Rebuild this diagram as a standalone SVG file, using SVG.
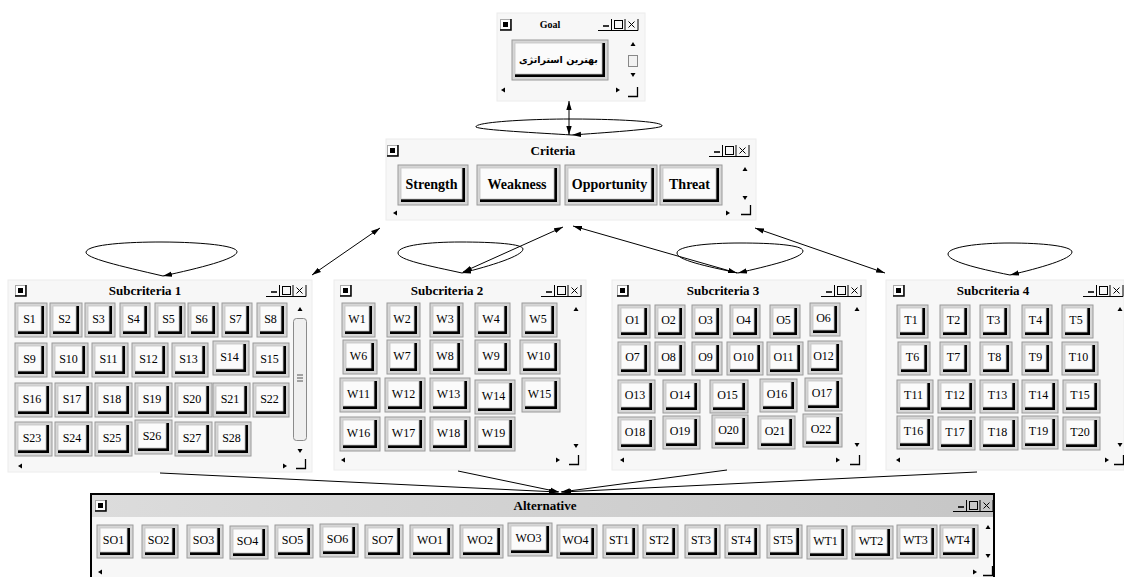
<svg xmlns="http://www.w3.org/2000/svg" xmlns:xlink="http://www.w3.org/1999/xlink" width="1124" height="577" viewBox="0 0 1124 577">
<style>
.wb{fill:#f7f7f7;stroke:#ececec}
.tt{font-family:"Liberation Serif",serif;font-weight:bold;font-size:13px;text-anchor:middle;fill:#000}
.bl{font-family:"Liberation Serif",serif;font-size:12px;text-anchor:middle;fill:#000}
.cl{font-family:"Liberation Serif",serif;font-weight:bold;font-size:14px;text-anchor:middle;fill:#000}
.o{fill:#d6d6d6;stroke:#9a9a9a}
.s{fill:#000}
.f{fill:#fbfbfb;stroke:#c4c4c4;stroke-width:.8}
.cn line,.cn path{stroke:#000;stroke-width:1;fill:none}
</style>
<defs>
<marker id="ah" viewBox="0 0 10 6" refX="10" refY="3" markerWidth="9" markerHeight="6" markerUnits="userSpaceOnUse" orient="auto-start-reverse"><path d="M0,0L10,3L0,6Z" fill="#000"/></marker>
<g id="ico"><rect x="0.5" y="0.5" width="10" height="10" fill="#fff" stroke="#aaa"/><rect x="3" y="3" width="5" height="5" fill="#000"/><path d="M11,0V11H0" stroke="#000" stroke-width="1.5" fill="none"/></g>
<g id="ctl"><path d="M0,13.5H40M13.5,2V13.5M27,2V13.5M40,2V13.5" stroke="#000" fill="none"/><path d="M5,9H11" stroke="#000" stroke-width="1.6"/><rect x="16.5" y="3.5" width="8" height="8" fill="none" stroke="#000"/><path d="M30.5,4.5L36.5,10.5M36.5,4.5L30.5,10.5" stroke="#000" fill="none"/></g>
<path id="up" d="M0,-2L2.5,2H-2.5Z" fill="#000"/>
<path id="dn" d="M0,2L2.5,-2H-2.5Z" fill="#000"/>
<path id="lf" d="M-2,0L2,-2.5V2.5Z" fill="#000"/>
<path id="rt" d="M2,0L-2,-2.5V2.5Z" fill="#000"/>
<path id="cor" d="M0,9.5H9.5V0" fill="none" stroke="#000" stroke-width="1.3"/>
<linearGradient id="tb" x1="0" x2="1" y1="0" y2="0"><stop offset="0" stop-color="#dcdcdc"/><stop offset="1" stop-color="#c6c6c6"/></linearGradient>
</defs>
<rect width="1124" height="577" fill="#fff"/>

<g id="goal">
<rect class="wb" x="497" y="13" width="148" height="88"/>
<use href="#ico" x="500" y="19"/>
<text class="tt" x="550" y="28" style="font-size:10px">Goal</text>
<use href="#ctl" x="598" y="17"/>
<g transform="translate(512,40)"><rect class="o" width="96" height="40"/><rect class="s" x="3" y="3" width="90" height="34"/><rect class="f" x="3" y="3" width="87" height="31"/><text x="46.5" y="22.5" style="font-family:'DejaVu Sans',sans-serif;font-weight:bold;font-size:9.5px;text-anchor:middle" direction="rtl">بهترین استراتژی</text></g>
<use href="#up" x="633" y="44"/><rect x="628.5" y="55.5" width="9" height="11" fill="#f2f2f2" stroke="#888"/><use href="#dn" x="633" y="75"/>
<use href="#lf" x="503" y="90"/><use href="#rt" x="618" y="90"/><use href="#cor" x="628" y="87"/>
</g>

<g id="criteria">
<rect class="wb" x="386" y="139" width="370" height="81"/>
<use href="#ico" x="387" y="145"/>
<text class="tt" x="553" y="155">Criteria</text>
<use href="#ctl" x="709" y="143"/>
<g transform="translate(398,165)"><rect class="o" width="70" height="40"/><rect class="s" x="3" y="3" width="64" height="34"/><rect class="f" x="3" y="3" width="61" height="31"/><text class="cl" x="33.5" y="23.5">Strength</text></g>
<g transform="translate(477,165)"><rect class="o" width="83" height="40"/><rect class="s" x="3" y="3" width="77" height="34"/><rect class="f" x="3" y="3" width="74" height="31"/><text class="cl" x="40" y="23.5">Weakness</text></g>
<g transform="translate(565,165)"><rect class="o" width="92" height="40"/><rect class="s" x="3" y="3" width="86" height="34"/><rect class="f" x="3" y="3" width="83" height="31"/><text class="cl" x="44.5" y="23.5">Opportunity</text></g>
<g transform="translate(660,165)"><rect class="o" width="62" height="40"/><rect class="s" x="3" y="3" width="56" height="34"/><rect class="f" x="3" y="3" width="53" height="31"/><text class="cl" x="29.5" y="23.5">Threat</text></g>
<use href="#up" x="745" y="169"/><use href="#dn" x="745" y="198"/>
<use href="#lf" x="395" y="213"/><use href="#rt" x="728" y="213"/><use href="#cor" x="741" y="205"/>
</g>

<g id="sub1">
<rect class="wb" x="8" y="280" width="304" height="192"/>
<use href="#ico" x="15" y="285"/>
<text class="tt" x="145" y="295">Subcriteria 1</text>
<use href="#ctl" x="266" y="283"/>
<g transform="translate(15,303)"><rect class="o" width="32" height="34"/><rect class="s" x="3" y="3" width="26" height="28"/><rect class="f" x="3" y="3" width="23" height="25"/><text class="bl" x="14.5" y="19.5">S1</text></g>
<g transform="translate(50,303)"><rect class="o" width="32" height="34"/><rect class="s" x="3" y="3" width="26" height="28"/><rect class="f" x="3" y="3" width="23" height="25"/><text class="bl" x="14.5" y="19.5">S2</text></g>
<g transform="translate(85,303)"><rect class="o" width="30" height="34"/><rect class="s" x="3" y="3" width="24" height="28"/><rect class="f" x="3" y="3" width="21" height="25"/><text class="bl" x="13.5" y="19.5">S3</text></g>
<g transform="translate(120,303)"><rect class="o" width="30" height="34"/><rect class="s" x="3" y="3" width="24" height="28"/><rect class="f" x="3" y="3" width="21" height="25"/><text class="bl" x="13.5" y="19.5">S4</text></g>
<g transform="translate(155,303)"><rect class="o" width="30" height="34"/><rect class="s" x="3" y="3" width="24" height="28"/><rect class="f" x="3" y="3" width="21" height="25"/><text class="bl" x="13.5" y="19.5">S5</text></g>
<g transform="translate(188,303)"><rect class="o" width="30" height="34"/><rect class="s" x="3" y="3" width="24" height="28"/><rect class="f" x="3" y="3" width="21" height="25"/><text class="bl" x="13.5" y="19.5">S6</text></g>
<g transform="translate(222,303)"><rect class="o" width="30" height="34"/><rect class="s" x="3" y="3" width="24" height="28"/><rect class="f" x="3" y="3" width="21" height="25"/><text class="bl" x="13.5" y="19.5">S7</text></g>
<g transform="translate(257,303)"><rect class="o" width="30" height="34"/><rect class="s" x="3" y="3" width="24" height="28"/><rect class="f" x="3" y="3" width="21" height="25"/><text class="bl" x="13.5" y="19.5">S8</text></g>
<g transform="translate(15,343)"><rect class="o" width="32" height="34"/><rect class="s" x="3" y="3" width="26" height="28"/><rect class="f" x="3" y="3" width="23" height="25"/><text class="bl" x="14.5" y="19.5">S9</text></g>
<g transform="translate(52,343)"><rect class="o" width="36" height="34"/><rect class="s" x="3" y="3" width="30" height="28"/><rect class="f" x="3" y="3" width="27" height="25"/><text class="bl" x="16.5" y="19.5">S10</text></g>
<g transform="translate(92,343)"><rect class="o" width="36" height="34"/><rect class="s" x="3" y="3" width="30" height="28"/><rect class="f" x="3" y="3" width="27" height="25"/><text class="bl" x="16.5" y="19.5">S11</text></g>
<g transform="translate(132,343)"><rect class="o" width="36" height="34"/><rect class="s" x="3" y="3" width="30" height="28"/><rect class="f" x="3" y="3" width="27" height="25"/><text class="bl" x="16.5" y="19.5">S12</text></g>
<g transform="translate(172,343)"><rect class="o" width="36" height="34"/><rect class="s" x="3" y="3" width="30" height="28"/><rect class="f" x="3" y="3" width="27" height="25"/><text class="bl" x="16.5" y="19.5">S13</text></g>
<g transform="translate(213,341)"><rect class="o" width="36" height="34"/><rect class="s" x="3" y="3" width="30" height="28"/><rect class="f" x="3" y="3" width="27" height="25"/><text class="bl" x="16.5" y="19.5">S14</text></g>
<g transform="translate(253,343)"><rect class="o" width="36" height="34"/><rect class="s" x="3" y="3" width="30" height="28"/><rect class="f" x="3" y="3" width="27" height="25"/><text class="bl" x="16.5" y="19.5">S15</text></g>
<g transform="translate(15,383)"><rect class="o" width="37" height="34"/><rect class="s" x="3" y="3" width="31" height="28"/><rect class="f" x="3" y="3" width="28" height="25"/><text class="bl" x="17" y="19.5">S16</text></g>
<g transform="translate(55,383)"><rect class="o" width="37" height="34"/><rect class="s" x="3" y="3" width="31" height="28"/><rect class="f" x="3" y="3" width="28" height="25"/><text class="bl" x="17" y="19.5">S17</text></g>
<g transform="translate(95,383)"><rect class="o" width="37" height="34"/><rect class="s" x="3" y="3" width="31" height="28"/><rect class="f" x="3" y="3" width="28" height="25"/><text class="bl" x="17" y="19.5">S18</text></g>
<g transform="translate(135,383)"><rect class="o" width="37" height="34"/><rect class="s" x="3" y="3" width="31" height="28"/><rect class="f" x="3" y="3" width="28" height="25"/><text class="bl" x="17" y="19.5">S19</text></g>
<g transform="translate(175,383)"><rect class="o" width="37" height="34"/><rect class="s" x="3" y="3" width="31" height="28"/><rect class="f" x="3" y="3" width="28" height="25"/><text class="bl" x="17" y="19.5">S20</text></g>
<g transform="translate(213,383)"><rect class="o" width="37" height="34"/><rect class="s" x="3" y="3" width="31" height="28"/><rect class="f" x="3" y="3" width="28" height="25"/><text class="bl" x="17" y="19.5">S21</text></g>
<g transform="translate(253,383)"><rect class="o" width="36" height="34"/><rect class="s" x="3" y="3" width="30" height="28"/><rect class="f" x="3" y="3" width="27" height="25"/><text class="bl" x="16.5" y="19.5">S22</text></g>
<g transform="translate(15,422)"><rect class="o" width="37" height="34"/><rect class="s" x="3" y="3" width="31" height="28"/><rect class="f" x="3" y="3" width="28" height="25"/><text class="bl" x="17" y="19.5">S23</text></g>
<g transform="translate(55,422)"><rect class="o" width="37" height="34"/><rect class="s" x="3" y="3" width="31" height="28"/><rect class="f" x="3" y="3" width="28" height="25"/><text class="bl" x="17" y="19.5">S24</text></g>
<g transform="translate(95,422)"><rect class="o" width="37" height="34"/><rect class="s" x="3" y="3" width="31" height="28"/><rect class="f" x="3" y="3" width="28" height="25"/><text class="bl" x="17" y="19.5">S25</text></g>
<g transform="translate(135,420)"><rect class="o" width="37" height="34"/><rect class="s" x="3" y="3" width="31" height="28"/><rect class="f" x="3" y="3" width="28" height="25"/><text class="bl" x="17" y="19.5">S26</text></g>
<g transform="translate(175,422)"><rect class="o" width="37" height="34"/><rect class="s" x="3" y="3" width="31" height="28"/><rect class="f" x="3" y="3" width="28" height="25"/><text class="bl" x="17" y="19.5">S27</text></g>
<g transform="translate(215,422)"><rect class="o" width="36" height="34"/><rect class="s" x="3" y="3" width="30" height="28"/><rect class="f" x="3" y="3" width="27" height="25"/><text class="bl" x="16.5" y="19.5">S28</text></g>
<rect x="293.5" y="318.5" width="13" height="122" rx="3" fill="#efefef" stroke="#8a8a8a"/>
<path d="M297,375H303M297,378H303M297,381H303" stroke="#555"/>
<use href="#up" x="300" y="309"/><use href="#dn" x="300" y="451"/>
<use href="#lf" x="20" y="466"/><use href="#rt" x="285" y="466"/><use href="#cor" x="296" y="459"/>
</g>

<g id="sub2">
<rect class="wb" x="334" y="280" width="252" height="190"/>
<use href="#ico" x="340" y="285"/>
<text class="tt" x="447" y="295">Subcriteria 2</text>
<use href="#ctl" x="541" y="283"/>
<g transform="translate(342,303)"><rect class="o" width="33" height="34"/><rect class="s" x="3" y="3" width="27" height="28"/><rect class="f" x="3" y="3" width="24" height="25"/><text class="bl" x="15" y="19.5">W1</text></g>
<g transform="translate(387,303)"><rect class="o" width="33" height="34"/><rect class="s" x="3" y="3" width="27" height="28"/><rect class="f" x="3" y="3" width="24" height="25"/><text class="bl" x="15" y="19.5">W2</text></g>
<g transform="translate(430,303)"><rect class="o" width="33" height="34"/><rect class="s" x="3" y="3" width="27" height="28"/><rect class="f" x="3" y="3" width="24" height="25"/><text class="bl" x="15" y="19.5">W3</text></g>
<g transform="translate(475,303)"><rect class="o" width="35" height="34"/><rect class="s" x="3" y="3" width="29" height="28"/><rect class="f" x="3" y="3" width="26" height="25"/><text class="bl" x="16" y="19.5">W4</text></g>
<g transform="translate(522,303)"><rect class="o" width="35" height="34"/><rect class="s" x="3" y="3" width="29" height="28"/><rect class="f" x="3" y="3" width="26" height="25"/><text class="bl" x="16" y="19.5">W5</text></g>
<g transform="translate(343,340)"><rect class="o" width="34" height="34"/><rect class="s" x="3" y="3" width="28" height="28"/><rect class="f" x="3" y="3" width="25" height="25"/><text class="bl" x="15.5" y="19.5">W6</text></g>
<g transform="translate(387,340)"><rect class="o" width="33" height="34"/><rect class="s" x="3" y="3" width="27" height="28"/><rect class="f" x="3" y="3" width="24" height="25"/><text class="bl" x="15" y="19.5">W7</text></g>
<g transform="translate(430,340)"><rect class="o" width="33" height="34"/><rect class="s" x="3" y="3" width="27" height="28"/><rect class="f" x="3" y="3" width="24" height="25"/><text class="bl" x="15" y="19.5">W8</text></g>
<g transform="translate(475,340)"><rect class="o" width="35" height="34"/><rect class="s" x="3" y="3" width="29" height="28"/><rect class="f" x="3" y="3" width="26" height="25"/><text class="bl" x="16" y="19.5">W9</text></g>
<g transform="translate(520,340)"><rect class="o" width="40" height="34"/><rect class="s" x="3" y="3" width="34" height="28"/><rect class="f" x="3" y="3" width="31" height="25"/><text class="bl" x="18.5" y="19.5">W10</text></g>
<g transform="translate(340,378)"><rect class="o" width="40" height="34"/><rect class="s" x="3" y="3" width="34" height="28"/><rect class="f" x="3" y="3" width="31" height="25"/><text class="bl" x="18.5" y="19.5">W11</text></g>
<g transform="translate(385,378)"><rect class="o" width="40" height="34"/><rect class="s" x="3" y="3" width="34" height="28"/><rect class="f" x="3" y="3" width="31" height="25"/><text class="bl" x="18.5" y="19.5">W12</text></g>
<g transform="translate(430,378)"><rect class="o" width="40" height="34"/><rect class="s" x="3" y="3" width="34" height="28"/><rect class="f" x="3" y="3" width="31" height="25"/><text class="bl" x="18.5" y="19.5">W13</text></g>
<g transform="translate(475,380)"><rect class="o" width="40" height="34"/><rect class="s" x="3" y="3" width="34" height="28"/><rect class="f" x="3" y="3" width="31" height="25"/><text class="bl" x="18.5" y="19.5">W14</text></g>
<g transform="translate(522,378)"><rect class="o" width="38" height="34"/><rect class="s" x="3" y="3" width="32" height="28"/><rect class="f" x="3" y="3" width="29" height="25"/><text class="bl" x="17.5" y="19.5">W15</text></g>
<g transform="translate(340,417)"><rect class="o" width="40" height="34"/><rect class="s" x="3" y="3" width="34" height="28"/><rect class="f" x="3" y="3" width="31" height="25"/><text class="bl" x="18.5" y="19.5">W16</text></g>
<g transform="translate(385,417)"><rect class="o" width="40" height="34"/><rect class="s" x="3" y="3" width="34" height="28"/><rect class="f" x="3" y="3" width="31" height="25"/><text class="bl" x="18.5" y="19.5">W17</text></g>
<g transform="translate(430,417)"><rect class="o" width="40" height="34"/><rect class="s" x="3" y="3" width="34" height="28"/><rect class="f" x="3" y="3" width="31" height="25"/><text class="bl" x="18.5" y="19.5">W18</text></g>
<g transform="translate(475,417)"><rect class="o" width="40" height="34"/><rect class="s" x="3" y="3" width="34" height="28"/><rect class="f" x="3" y="3" width="31" height="25"/><text class="bl" x="18.5" y="19.5">W19</text></g>
<use href="#up" x="576" y="309"/><use href="#dn" x="576" y="446"/>
<use href="#lf" x="343" y="460"/><use href="#rt" x="558" y="460"/><use href="#cor" x="569" y="455"/>
</g>

<g id="sub3">
<rect class="wb" x="612" y="280" width="254" height="190"/>
<use href="#ico" x="617" y="285"/>
<text class="tt" x="723" y="295">Subcriteria 3</text>
<use href="#ctl" x="821" y="283"/>
<g transform="translate(618,305)"><rect class="o" width="32" height="33"/><rect class="s" x="3" y="3" width="26" height="27"/><rect class="f" x="3" y="3" width="23" height="24"/><text class="bl" x="14.5" y="19">O1</text></g>
<g transform="translate(655,305)"><rect class="o" width="30" height="33"/><rect class="s" x="3" y="3" width="24" height="27"/><rect class="f" x="3" y="3" width="21" height="24"/><text class="bl" x="13.5" y="19">O2</text></g>
<g transform="translate(692,305)"><rect class="o" width="30" height="33"/><rect class="s" x="3" y="3" width="24" height="27"/><rect class="f" x="3" y="3" width="21" height="24"/><text class="bl" x="13.5" y="19">O3</text></g>
<g transform="translate(730,305)"><rect class="o" width="30" height="33"/><rect class="s" x="3" y="3" width="24" height="27"/><rect class="f" x="3" y="3" width="21" height="24"/><text class="bl" x="13.5" y="19">O4</text></g>
<g transform="translate(770,305)"><rect class="o" width="30" height="33"/><rect class="s" x="3" y="3" width="24" height="27"/><rect class="f" x="3" y="3" width="21" height="24"/><text class="bl" x="13.5" y="19">O5</text></g>
<g transform="translate(810,303)"><rect class="o" width="30" height="33"/><rect class="s" x="3" y="3" width="24" height="27"/><rect class="f" x="3" y="3" width="21" height="24"/><text class="bl" x="13.5" y="19">O6</text></g>
<g transform="translate(618,342)"><rect class="o" width="32" height="33"/><rect class="s" x="3" y="3" width="26" height="27"/><rect class="f" x="3" y="3" width="23" height="24"/><text class="bl" x="14.5" y="19">O7</text></g>
<g transform="translate(655,342)"><rect class="o" width="30" height="33"/><rect class="s" x="3" y="3" width="24" height="27"/><rect class="f" x="3" y="3" width="21" height="24"/><text class="bl" x="13.5" y="19">O8</text></g>
<g transform="translate(692,342)"><rect class="o" width="30" height="33"/><rect class="s" x="3" y="3" width="24" height="27"/><rect class="f" x="3" y="3" width="21" height="24"/><text class="bl" x="13.5" y="19">O9</text></g>
<g transform="translate(727,342)"><rect class="o" width="36" height="33"/><rect class="s" x="3" y="3" width="30" height="27"/><rect class="f" x="3" y="3" width="27" height="24"/><text class="bl" x="16.5" y="19">O10</text></g>
<g transform="translate(767,342)"><rect class="o" width="36" height="33"/><rect class="s" x="3" y="3" width="30" height="27"/><rect class="f" x="3" y="3" width="27" height="24"/><text class="bl" x="16.5" y="19">O11</text></g>
<g transform="translate(808,341)"><rect class="o" width="34" height="33"/><rect class="s" x="3" y="3" width="28" height="27"/><rect class="f" x="3" y="3" width="25" height="24"/><text class="bl" x="15.5" y="19">O12</text></g>
<g transform="translate(618,380)"><rect class="o" width="37" height="33"/><rect class="s" x="3" y="3" width="31" height="27"/><rect class="f" x="3" y="3" width="28" height="24"/><text class="bl" x="17" y="19">O13</text></g>
<g transform="translate(663,380)"><rect class="o" width="37" height="33"/><rect class="s" x="3" y="3" width="31" height="27"/><rect class="f" x="3" y="3" width="28" height="24"/><text class="bl" x="17" y="19">O14</text></g>
<g transform="translate(710,380)"><rect class="o" width="38" height="33"/><rect class="s" x="3" y="3" width="32" height="27"/><rect class="f" x="3" y="3" width="29" height="24"/><text class="bl" x="17.5" y="19">O15</text></g>
<g transform="translate(760,379)"><rect class="o" width="37" height="33"/><rect class="s" x="3" y="3" width="31" height="27"/><rect class="f" x="3" y="3" width="28" height="24"/><text class="bl" x="17" y="19">O16</text></g>
<g transform="translate(805,378)"><rect class="o" width="37" height="33"/><rect class="s" x="3" y="3" width="31" height="27"/><rect class="f" x="3" y="3" width="28" height="24"/><text class="bl" x="17" y="19">O17</text></g>
<g transform="translate(618,417)"><rect class="o" width="37" height="33"/><rect class="s" x="3" y="3" width="31" height="27"/><rect class="f" x="3" y="3" width="28" height="24"/><text class="bl" x="17" y="19">O18</text></g>
<g transform="translate(663,416)"><rect class="o" width="37" height="33"/><rect class="s" x="3" y="3" width="31" height="27"/><rect class="f" x="3" y="3" width="28" height="24"/><text class="bl" x="17" y="19">O19</text></g>
<g transform="translate(712,415)"><rect class="o" width="36" height="33"/><rect class="s" x="3" y="3" width="30" height="27"/><rect class="f" x="3" y="3" width="27" height="24"/><text class="bl" x="16.5" y="19">O20</text></g>
<g transform="translate(758,416)"><rect class="o" width="37" height="33"/><rect class="s" x="3" y="3" width="31" height="27"/><rect class="f" x="3" y="3" width="28" height="24"/><text class="bl" x="17" y="19">O21</text></g>
<g transform="translate(803,414)"><rect class="o" width="39" height="33"/><rect class="s" x="3" y="3" width="33" height="27"/><rect class="f" x="3" y="3" width="30" height="24"/><text class="bl" x="18" y="19">O22</text></g>
<use href="#up" x="857" y="309"/><use href="#dn" x="857" y="445"/>
<use href="#lf" x="622" y="460"/><use href="#rt" x="838" y="460"/><use href="#cor" x="850" y="455"/>
</g>

<g id="sub4">
<rect class="wb" x="886" y="280" width="238" height="190"/>
<use href="#ico" x="893" y="285"/>
<text class="tt" x="993" y="295">Subcriteria 4</text>
<use href="#ctl" x="1083" y="283"/>
<g transform="translate(897,305)"><rect class="o" width="31" height="33"/><rect class="s" x="3" y="3" width="25" height="27"/><rect class="f" x="3" y="3" width="22" height="24"/><text class="bl" x="14" y="19">T1</text></g>
<g transform="translate(940,305)"><rect class="o" width="30" height="33"/><rect class="s" x="3" y="3" width="24" height="27"/><rect class="f" x="3" y="3" width="21" height="24"/><text class="bl" x="13.5" y="19">T2</text></g>
<g transform="translate(980,305)"><rect class="o" width="30" height="33"/><rect class="s" x="3" y="3" width="24" height="27"/><rect class="f" x="3" y="3" width="21" height="24"/><text class="bl" x="13.5" y="19">T3</text></g>
<g transform="translate(1022,305)"><rect class="o" width="30" height="33"/><rect class="s" x="3" y="3" width="24" height="27"/><rect class="f" x="3" y="3" width="21" height="24"/><text class="bl" x="13.5" y="19">T4</text></g>
<g transform="translate(1062,305)"><rect class="o" width="31" height="33"/><rect class="s" x="3" y="3" width="25" height="27"/><rect class="f" x="3" y="3" width="22" height="24"/><text class="bl" x="14" y="19">T5</text></g>
<g transform="translate(898,342)"><rect class="o" width="32" height="33"/><rect class="s" x="3" y="3" width="26" height="27"/><rect class="f" x="3" y="3" width="23" height="24"/><text class="bl" x="14.5" y="19">T6</text></g>
<g transform="translate(940,342)"><rect class="o" width="30" height="33"/><rect class="s" x="3" y="3" width="24" height="27"/><rect class="f" x="3" y="3" width="21" height="24"/><text class="bl" x="13.5" y="19">T7</text></g>
<g transform="translate(980,342)"><rect class="o" width="32" height="33"/><rect class="s" x="3" y="3" width="26" height="27"/><rect class="f" x="3" y="3" width="23" height="24"/><text class="bl" x="14.5" y="19">T8</text></g>
<g transform="translate(1022,342)"><rect class="o" width="30" height="33"/><rect class="s" x="3" y="3" width="24" height="27"/><rect class="f" x="3" y="3" width="21" height="24"/><text class="bl" x="13.5" y="19">T9</text></g>
<g transform="translate(1062,342)"><rect class="o" width="36" height="33"/><rect class="s" x="3" y="3" width="30" height="27"/><rect class="f" x="3" y="3" width="27" height="24"/><text class="bl" x="16.5" y="19">T10</text></g>
<g transform="translate(897,380)"><rect class="o" width="36" height="33"/><rect class="s" x="3" y="3" width="30" height="27"/><rect class="f" x="3" y="3" width="27" height="24"/><text class="bl" x="16.5" y="19">T11</text></g>
<g transform="translate(938,380)"><rect class="o" width="37" height="33"/><rect class="s" x="3" y="3" width="31" height="27"/><rect class="f" x="3" y="3" width="28" height="24"/><text class="bl" x="17" y="19">T12</text></g>
<g transform="translate(980,380)"><rect class="o" width="38" height="33"/><rect class="s" x="3" y="3" width="32" height="27"/><rect class="f" x="3" y="3" width="29" height="24"/><text class="bl" x="17.5" y="19">T13</text></g>
<g transform="translate(1022,380)"><rect class="o" width="36" height="33"/><rect class="s" x="3" y="3" width="30" height="27"/><rect class="f" x="3" y="3" width="27" height="24"/><text class="bl" x="16.5" y="19">T14</text></g>
<g transform="translate(1063,380)"><rect class="o" width="37" height="33"/><rect class="s" x="3" y="3" width="31" height="27"/><rect class="f" x="3" y="3" width="28" height="24"/><text class="bl" x="17" y="19">T15</text></g>
<g transform="translate(897,416)"><rect class="o" width="36" height="33"/><rect class="s" x="3" y="3" width="30" height="27"/><rect class="f" x="3" y="3" width="27" height="24"/><text class="bl" x="16.5" y="19">T16</text></g>
<g transform="translate(938,417)"><rect class="o" width="37" height="33"/><rect class="s" x="3" y="3" width="31" height="27"/><rect class="f" x="3" y="3" width="28" height="24"/><text class="bl" x="17" y="19">T17</text></g>
<g transform="translate(980,417)"><rect class="o" width="38" height="33"/><rect class="s" x="3" y="3" width="32" height="27"/><rect class="f" x="3" y="3" width="29" height="24"/><text class="bl" x="17.5" y="19">T18</text></g>
<g transform="translate(1022,416)"><rect class="o" width="36" height="33"/><rect class="s" x="3" y="3" width="30" height="27"/><rect class="f" x="3" y="3" width="27" height="24"/><text class="bl" x="16.5" y="19">T19</text></g>
<g transform="translate(1063,417)"><rect class="o" width="37" height="33"/><rect class="s" x="3" y="3" width="31" height="27"/><rect class="f" x="3" y="3" width="28" height="24"/><text class="bl" x="17" y="19">T20</text></g>
<use href="#up" x="1120" y="309"/><use href="#dn" x="1120" y="445"/>
<use href="#lf" x="898" y="460"/><use href="#rt" x="1107" y="460"/><use href="#cor" x="1114" y="455"/>
</g>

<g id="alternative">
<rect x="91" y="494" width="903" height="90" fill="#f7f7f7" stroke="#000" stroke-width="2"/>
<rect x="92" y="495" width="901" height="22" fill="url(#tb)"/>
<use href="#ico" x="95" y="500"/>
<text class="tt" x="545" y="510">Alternative</text>
<use href="#ctl" x="953" y="498"/>
<g transform="translate(97,525)"><rect class="o" width="36" height="33"/><rect class="s" x="3" y="3" width="30" height="27"/><rect class="f" x="3" y="3" width="27" height="24"/><text class="bl" x="16.5" y="19">SO1</text></g>
<g transform="translate(142,525)"><rect class="o" width="36" height="33"/><rect class="s" x="3" y="3" width="30" height="27"/><rect class="f" x="3" y="3" width="27" height="24"/><text class="bl" x="16.5" y="19">SO2</text></g>
<g transform="translate(187,525)"><rect class="o" width="36" height="33"/><rect class="s" x="3" y="3" width="30" height="27"/><rect class="f" x="3" y="3" width="27" height="24"/><text class="bl" x="16.5" y="19">SO3</text></g>
<g transform="translate(230,526)"><rect class="o" width="38" height="33"/><rect class="s" x="3" y="3" width="32" height="27"/><rect class="f" x="3" y="3" width="29" height="24"/><text class="bl" x="17.5" y="19">SO4</text></g>
<g transform="translate(275,525)"><rect class="o" width="38" height="33"/><rect class="s" x="3" y="3" width="32" height="27"/><rect class="f" x="3" y="3" width="29" height="24"/><text class="bl" x="17.5" y="19">SO5</text></g>
<g transform="translate(320,524)"><rect class="o" width="38" height="33"/><rect class="s" x="3" y="3" width="32" height="27"/><rect class="f" x="3" y="3" width="29" height="24"/><text class="bl" x="17.5" y="19">SO6</text></g>
<g transform="translate(365,525)"><rect class="o" width="38" height="33"/><rect class="s" x="3" y="3" width="32" height="27"/><rect class="f" x="3" y="3" width="29" height="24"/><text class="bl" x="17.5" y="19">SO7</text></g>
<g transform="translate(410,525)"><rect class="o" width="43" height="33"/><rect class="s" x="3" y="3" width="37" height="27"/><rect class="f" x="3" y="3" width="34" height="24"/><text class="bl" x="20" y="19">WO1</text></g>
<g transform="translate(460,525)"><rect class="o" width="43" height="33"/><rect class="s" x="3" y="3" width="37" height="27"/><rect class="f" x="3" y="3" width="34" height="24"/><text class="bl" x="20" y="19">WO2</text></g>
<g transform="translate(508,523)"><rect class="o" width="44" height="33"/><rect class="s" x="3" y="3" width="38" height="27"/><rect class="f" x="3" y="3" width="35" height="24"/><text class="bl" x="20.5" y="19">WO3</text></g>
<g transform="translate(557,525)"><rect class="o" width="40" height="33"/><rect class="s" x="3" y="3" width="34" height="27"/><rect class="f" x="3" y="3" width="31" height="24"/><text class="bl" x="18.5" y="19">WO4</text></g>
<g transform="translate(603,525)"><rect class="o" width="35" height="33"/><rect class="s" x="3" y="3" width="29" height="27"/><rect class="f" x="3" y="3" width="26" height="24"/><text class="bl" x="16" y="19">ST1</text></g>
<g transform="translate(643,525)"><rect class="o" width="35" height="33"/><rect class="s" x="3" y="3" width="29" height="27"/><rect class="f" x="3" y="3" width="26" height="24"/><text class="bl" x="16" y="19">ST2</text></g>
<g transform="translate(685,525)"><rect class="o" width="35" height="33"/><rect class="s" x="3" y="3" width="29" height="27"/><rect class="f" x="3" y="3" width="26" height="24"/><text class="bl" x="16" y="19">ST3</text></g>
<g transform="translate(725,525)"><rect class="o" width="35" height="33"/><rect class="s" x="3" y="3" width="29" height="27"/><rect class="f" x="3" y="3" width="26" height="24"/><text class="bl" x="16" y="19">ST4</text></g>
<g transform="translate(767,525)"><rect class="o" width="35" height="33"/><rect class="s" x="3" y="3" width="29" height="27"/><rect class="f" x="3" y="3" width="26" height="24"/><text class="bl" x="16" y="19">ST5</text></g>
<g transform="translate(807,526)"><rect class="o" width="40" height="33"/><rect class="s" x="3" y="3" width="34" height="27"/><rect class="f" x="3" y="3" width="31" height="24"/><text class="bl" x="18.5" y="19">WT1</text></g>
<g transform="translate(852,526)"><rect class="o" width="41" height="33"/><rect class="s" x="3" y="3" width="35" height="27"/><rect class="f" x="3" y="3" width="32" height="24"/><text class="bl" x="19" y="19">WT2</text></g>
<g transform="translate(897,525)"><rect class="o" width="40" height="33"/><rect class="s" x="3" y="3" width="34" height="27"/><rect class="f" x="3" y="3" width="31" height="24"/><text class="bl" x="18.5" y="19">WT3</text></g>
<g transform="translate(940,525)"><rect class="o" width="38" height="33"/><rect class="s" x="3" y="3" width="32" height="27"/><rect class="f" x="3" y="3" width="29" height="24"/><text class="bl" x="17.5" y="19">WT4</text></g>
<use href="#up" x="988" y="527"/><use href="#dn" x="988" y="556"/>
<use href="#lf" x="100" y="572"/><use href="#rt" x="975" y="572"/><use href="#cor" x="983" y="566"/>
</g>

<g id="connectors" class="cn">
<line x1="569" y1="101" x2="569" y2="135" marker-start="url(#ah)" marker-end="url(#ah)"/>
<line x1="380" y1="228" x2="312" y2="275" marker-start="url(#ah)" marker-end="url(#ah)"/>
<line x1="563" y1="227" x2="463" y2="272" marker-start="url(#ah)" marker-end="url(#ah)"/>
<line x1="573" y1="226" x2="737" y2="273" marker-start="url(#ah)" marker-end="url(#ah)"/>
<line x1="755" y1="228" x2="885" y2="273" marker-start="url(#ah)" marker-end="url(#ah)"/>
<line x1="160" y1="473" x2="558" y2="492" marker-end="url(#ah)"/>
<line x1="458" y1="471" x2="559" y2="492" marker-end="url(#ah)"/>
<line x1="727" y1="470" x2="561" y2="492" marker-end="url(#ah)"/>
<line x1="977" y1="472" x2="562" y2="492" marker-end="url(#ah)"/>
<path d="M572,135C540,133 480,130 476,127C474,122 530,119 570,119C610,119 664,121 662,126C660,129 600,133 572,135" marker-end="url(#ah)"/>
<path d="M163,276C120,266 85,258 86,252C88,244 130,242 161,242C195,242 238,245 237,252C236,259 200,268 163,276" marker-end="url(#ah)"/>
<path d="M462,273C430,266 398,260 398,253C398,245 430,242 460,242C495,242 523,244 523,249C523,256 490,266 462,273" marker-end="url(#ah)"/>
<path d="M738,273C705,266 677,260 677,253C677,246 708,243 740,243C773,243 803,245 803,251C803,258 768,266 738,273" marker-end="url(#ah)"/>
<path d="M1010,275C975,268 948,261 948,254C948,247 978,243 1010,243C1042,243 1072,246 1072,252C1072,259 1040,268 1010,275" marker-end="url(#ah)"/>
</g>
</svg>
